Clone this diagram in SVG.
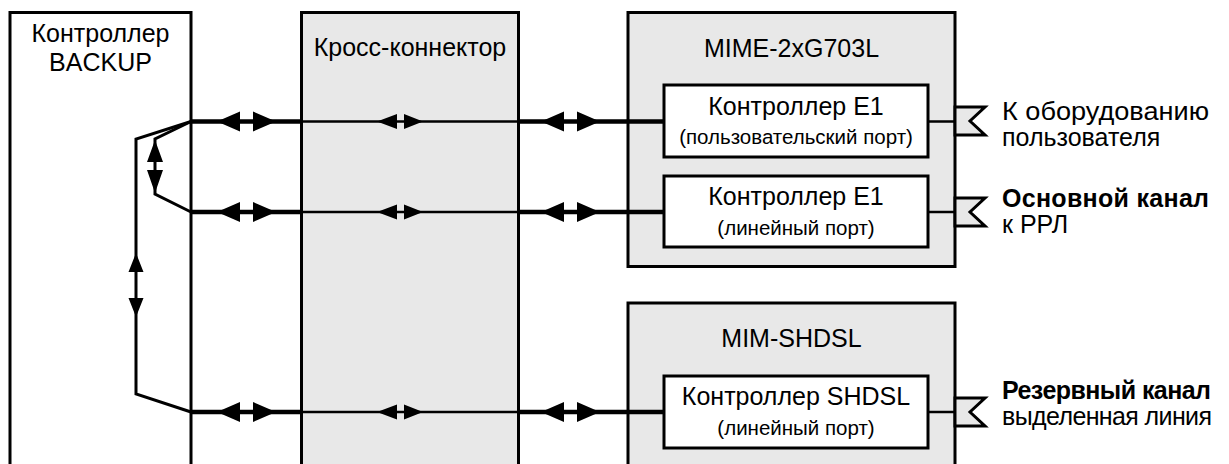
<svg xmlns="http://www.w3.org/2000/svg" width="1229" height="464" viewBox="0 0 1229 464">
<defs>
<style>
.box{stroke:#000;stroke-width:3}
.w{fill:#fff}
.g{fill:#e8e8e8}
.t{font-family:"Liberation Sans",Arial,sans-serif;font-size:25px;fill:#000}
.s{font-family:"Liberation Sans",Arial,sans-serif;font-size:20.5px;fill:#000}
.c{text-anchor:middle}
.b{font-weight:bold}
.thick{stroke:#000;stroke-width:4.5;fill:none}
.thin{stroke:#000;stroke-width:2.5;fill:none}
.loop{stroke:#000;stroke-width:3;fill:none;stroke-linejoin:miter}
.ah{fill:#000;stroke:none}
.plug{fill:#e8e8e8;stroke:#000;stroke-width:3}
</style>
</defs>
<rect width="1229" height="464" fill="#fff"/>
<g id="backup">
<rect class="box w" x="10" y="12.5" width="181" height="470"/>
<text class="t c" x="100.5" y="42">Контроллер</text>
<text class="t c" x="100.5" y="71">BACKUP</text>
</g>
<g id="cross">
<rect class="box g" x="301.5" y="12.5" width="217" height="470"/>
<text class="t c" x="410" y="56">Кросс-коннектор</text>
</g>
<g id="mime">
<rect class="box g" x="628" y="12.5" width="327" height="254"/>
<text class="t c" x="791.5" y="57">MIME-2xG703L</text>
</g>
<g id="e1-user">
<rect class="box w" x="664" y="85" width="264" height="72"/>
<text class="t c" x="796" y="115">Контроллер E1</text>
<text class="s c" x="796" y="144">(пользовательский порт)</text>
</g>
<g id="e1-line">
<rect class="box w" x="664" y="176" width="264" height="71"/>
<text class="t c" x="796" y="205">Контроллер E1</text>
<text class="s c" x="796" y="235">(линейный порт)</text>
</g>
<g id="mim-shdsl">
<rect class="box g" x="628" y="303" width="327" height="200"/>
<text class="t c" x="791.5" y="347">MIM-SHDSL</text>
</g>
<g id="shdsl-ctrl">
<rect class="box w" x="664" y="376" width="264" height="72"/>
<text class="t c" x="796" y="405">Контроллер SHDSL</text>
<text class="s c" x="796" y="435">(линейный порт)</text>
</g>
<g id="ext-user">
<polygon class="plug" points="955,107 985,107 970,121 985,135 955,135"/>
<text class="t" x="1002" y="120" textLength="207" lengthAdjust="spacingAndGlyphs">К оборудованию</text>
<text class="t" x="1002" y="146">пользователя</text>
</g>
<g id="ext-main">
<polygon class="plug" points="955,198 985,198 970,212 985,226 955,226"/>
<text class="t b" x="1002" y="207" textLength="207" lengthAdjust="spacing">Основной канал</text>
<text class="t" x="1002" y="233">к РРЛ</text>
</g>
<g id="ext-reserve">
<polygon class="plug" points="955,398 985,398 970,412 985,426 955,426"/>
<text class="t b" x="1002" y="399" textLength="209" lengthAdjust="spacing">Резервный канал</text>
<text class="t" x="1002" y="425" textLength="210" lengthAdjust="spacing">выделенная линия</text>
</g>
<g id="connectors">
<path class="thick" d="M191,121.5H302M519,121.5H664M191,212H302M519,212H664M191,412H302M519,412H664"/>
<path class="thin" d="M302,121.5H519M302,212H519M302,412H519M928,121.5H955M928,212H955M928,412H955"/>
<path class="loop" d="M191,121.5L136,139V394L191,412"/>
<path class="loop" d="M191,121.5L155,139V194L191,212"/>
<g class="ah">
<path d="M217,121.5L240,111.5V131.5Z M276,121.5L253,111.5V131.5Z M377,121.5L397,114V129Z M423,121.5L404,114V129Z M541,121.5L564,111.5V131.5Z M600,121.5L577,111.5V131.5Z"/>
<path d="M217,212L240,202V222Z M276,212L253,202V222Z M377,212L397,204.5V219.5Z M423,212L404,204.5V219.5Z M541,212L564,202V222Z M600,212L577,202V222Z"/>
<path d="M217,412L240,402V422Z M276,412L253,402V422Z M377,412L397,404.5V419.5Z M423,412L404,404.5V419.5Z M541,412L564,402V422Z M600,412L577,402V422Z"/>
<path d="M155,140L147,162H163Z M155,193L147,170H163Z"/>
<path d="M136,253L128.5,272H143.5Z M136,317L128.5,298H143.5Z"/>
</g>
</g>
</svg>
